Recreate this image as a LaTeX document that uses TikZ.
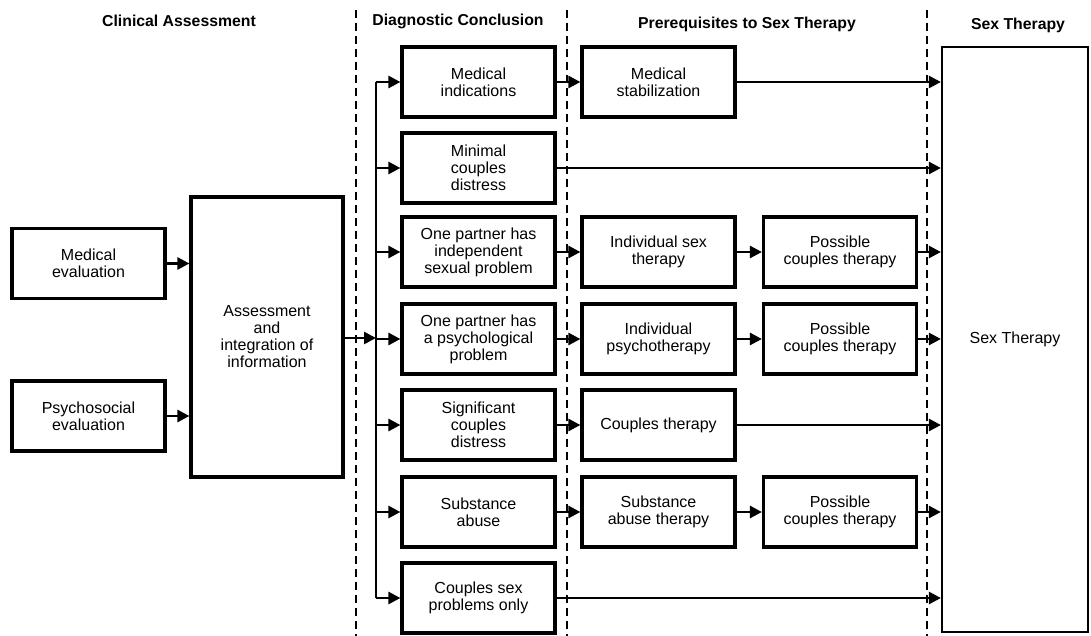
\documentclass[tikz,border=0pt]{standalone}
\usepackage{fontspec}
\setmainfont{Liberation Sans}
\usetikzlibrary{arrows.meta}
\begin{document}
\begin{tikzpicture}[x=1pt,y=-1pt,
  box/.style={draw,line width=3.2pt,minimum width=153pt,minimum height=70pt,
    align=center,inner sep=2pt,font=\fontsize{16}{17}\selectfont},
  hdr/.style={font=\fontsize{15.8}{17}\selectfont\bfseries},
  arr/.style={line width=2.6pt,-{Triangle[length=12pt,width=12pt]}},
  link/.style={line width=2.6pt},
  sep/.style={line width=2.5pt,dash pattern=on 8pt off 5pt}]
\useasboundingbox (0,0) rectangle (1091,636);

% column headings
\node[hdr] (h1) at (179,21) {Clinical Assessment};
\node[hdr] (h2) at (458,21) {Diagnostic Conclusion};
\node[hdr] (h3) at (747,24) {Prerequisites to Sex Therapy};
\node[hdr] (h4) at (1018,25) {Sex Therapy};

% dashed column separators
\coordinate (s1t) at (356,10);  \coordinate (s1b) at (356,636);
\coordinate (s2t) at (567,10);  \coordinate (s2b) at (567,636);
\coordinate (s3t) at (927,10);  \coordinate (s3b) at (927,636);
\draw[sep] (s1t) -- (s1b);
\draw[sep] (s2t) -- (s2b);
\draw[sep] (s3t) -- (s3b);

% clinical assessment
\node[box] (med) at (88.5,263.5) {Medical\\evaluation};
\node[box] (psy) at (88.5,416) {Psychosocial\\evaluation};
\node[box,minimum width=152pt,minimum height=280pt] (asm) at (267,337)
  {Assessment\\and\\integration of\\information};

% diagnostic conclusions
\node[box] (d1) at (478.5,82)  {Medical\\indications};
\node[box] (d2) at (478.5,168) {Minimal\\couples\\distress};
\node[box] (d3) at (478.5,252) {One partner has\\independent\\sexual problem};
\node[box] (d4) at (478.5,339) {One partner has\\a psychological\\problem};
\node[box] (d5) at (478.5,425) {Significant\\couples\\distress};
\node[box] (d6) at (478.5,512) {Substance\\abuse};
\node[box] (d7) at (478.5,598) {Couples sex\\problems only};

% prerequisites
\node[box] (p1) at (658.5,82)  {Medical\\stabilization};
\node[box] (p3) at (658.5,252) {Individual sex\\therapy};
\node[box] (p4) at (658.5,339) {Individual\\psychotherapy};
\node[box] (p5) at (658.5,425) {Couples therapy};
\node[box] (p6) at (658.5,512) {Substance\\abuse therapy};
\node[box] (q3) at (840,252) {Possible\\couples therapy};
\node[box] (q4) at (840,339) {Possible\\couples therapy};
\node[box] (q6) at (840,512) {Possible\\couples therapy};

% sex therapy
\node[box,line width=2.2pt,minimum width=146pt,minimum height=585pt] (sx) at (1015,339.5) {Sex Therapy};

% inputs to the assessment
\draw[arr] (med.east) -- (med.east -| asm.west);
\draw[arr] (psy.east) -- (psy.east -| asm.west);

% distribution bus
\coordinate (bus) at (376,338);
\draw[link] (d1.west -| bus) -- (d7.west -| bus);
\draw[arr] (asm.east |- bus) -- (bus);
\foreach \d in {d1,d2,d3,d4,d5,d6,d7}
  \draw[arr] (\d.west -| bus) -- (\d.west);

% flows to prerequisites and to sex therapy
\draw[arr] (d1.east) -- (p1.west);
\draw[arr] (p1.east) -- (p1.east -| sx.west);
\draw[arr] (d2.east) -- (d2.east -| sx.west);
\draw[arr] (d3.east) -- (p3.west);
\draw[arr] (p3.east) -- (q3.west);
\draw[arr] (q3.east) -- (q3.east -| sx.west);
\draw[arr] (d4.east) -- (p4.west);
\draw[arr] (p4.east) -- (q4.west);
\draw[arr] (q4.east) -- (q4.east -| sx.west);
\draw[arr] (d5.east) -- (p5.west);
\draw[arr] (p5.east) -- (p5.east -| sx.west);
\draw[arr] (d6.east) -- (p6.west);
\draw[arr] (p6.east) -- (q6.west);
\draw[arr] (q6.east) -- (q6.east -| sx.west);
\draw[arr] (d7.east) -- (d7.east -| sx.west);
\end{tikzpicture}
\end{document}
